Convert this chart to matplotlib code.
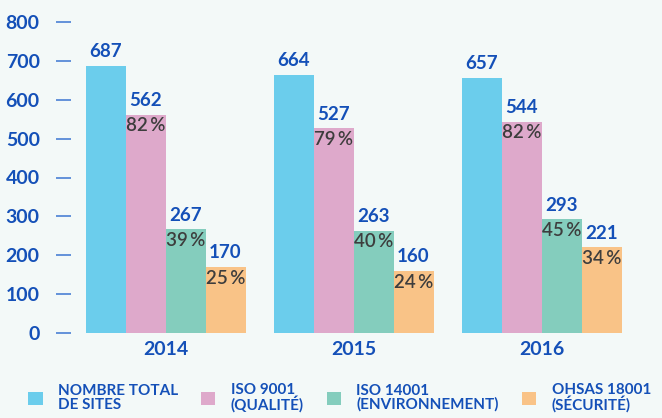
import numpy as np
import matplotlib.pyplot as plt
from matplotlib.patches import Patch

years = ['2014', '2015', '2016']
series = ['NOMBRE TOTAL\nDE SITES', 'ISO 9001\n(QUALITÉ)',
          'ISO 14001\n(ENVIRONNEMENT)', 'OHSAS 18001\n(SÉCURITÉ)']
total = [687, 664, 657]
iso9001 = [562, 527, 544]
iso14001 = [267, 263, 293]
ohsas = [170, 160, 221]
pct9001 = [82, 79, 82]
pct14001 = [39, 40, 45]
pct_ohsas = [25, 24, 34]

colors = ['#6bcdec', '#dea9cb', '#84cdbd', '#f9c387']
bg = '#f3f9f8'
blue = '#1450b8'
grey = '#3d3d3d'
font = 'Lato'

values = [total, iso9001, iso14001, ohsas]
pcts = [None, pct9001, pct14001, pct_ohsas]

fig = plt.figure(figsize=(6.62, 4.18), dpi=100, facecolor=bg)
ax = fig.add_axes([71/662, 1-333/418, 1-71/662, (333-22)/418])
ax.set_facecolor(bg)

w = 40/188
x = np.arange(len(years))
for i, vals in enumerate(values):
    pos = x + (i - 1.5) * w
    ax.bar(pos, vals, width=w, color=colors[i], linewidth=0)
    for j, v in enumerate(vals):
        ax.text(pos[j], v + 14, str(v), ha='center', va='bottom',
                fontsize=13.5, fontweight='bold', color=blue, family=font)
        if pcts[i] is not None:
            ax.text(pos[j], v - 7, f'{pcts[i][j]}\u2009%', ha='center', va='top',
                    fontsize=13.5, fontweight='semibold', color=grey, family=font)

ax.set_xlim((71-165.5)/188, (662-165.5)/188)
ax.set_ylim(0, 800)
ax.set_yticks(range(0, 801, 100))
ax.set_yticklabels([str(t) for t in range(0, 801, 100)], fontsize=14,
                   fontweight='bold', color=blue, family=font)
ax.tick_params(axis='y', direction='out', length=10.5, width=1.2,
               color='#4a80d4', pad=12)
ax.set_xticks(x)
ax.set_xticklabels(years, fontsize=14, fontweight='bold', color=blue, family=font)
ax.tick_params(axis='x', length=0, pad=6)
for s in ax.spines.values():
    s.set_visible(False)

handles = [Patch(facecolor=c, edgecolor='none') for c in colors]
leg = fig.legend(handles, series, ncol=4, loc='lower left',
                 bbox_to_anchor=(28/662, 5/418), frameon=False,
                 prop={'family': font, 'weight': 'bold', 'size': 11},
                 handlelength=0.95, handleheight=0.95, handletextpad=1.0,
                 columnspacing=1.5, labelspacing=0, borderpad=0, borderaxespad=0)
for t in leg.get_texts():
    t.set_color(blue)
    t.set_linespacing(0.95)

fig.savefig('out.png', dpi=100, facecolor=bg)
